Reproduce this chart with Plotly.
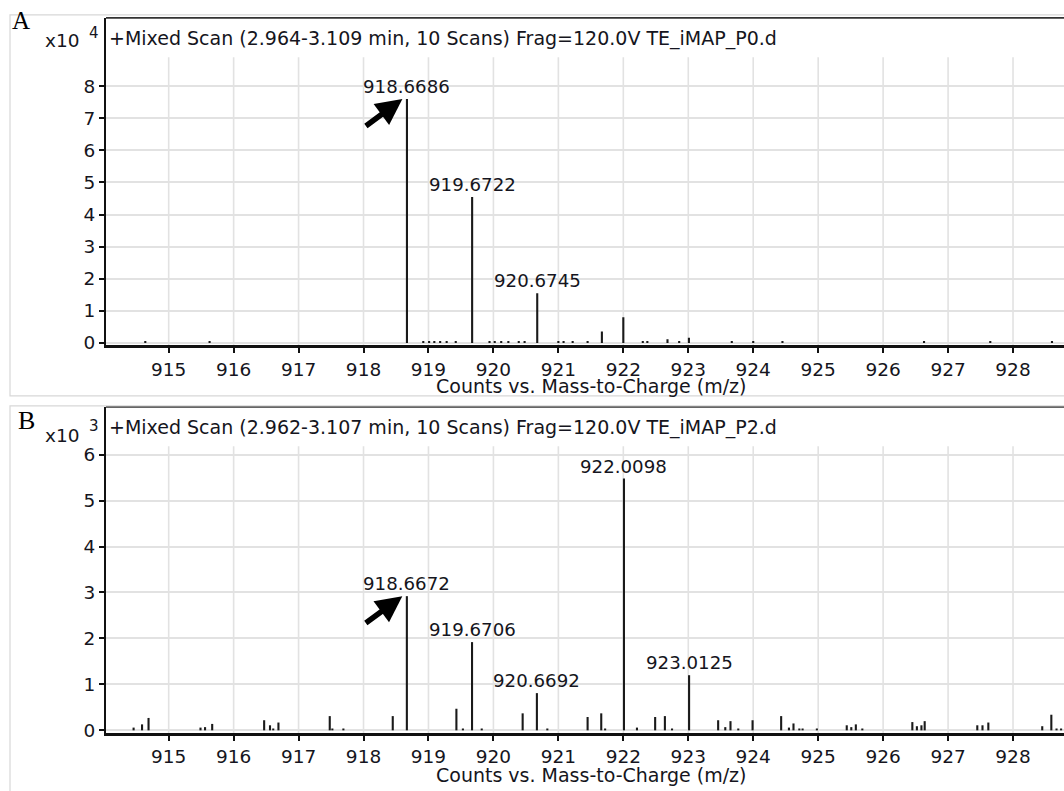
import plotly.graph_objects as go

W, H = 1064, 791

# ---- Panel A spectrum: intensities in counts x10^4 ----
mz_a = [914.64, 915.63,
        918.6686, 918.92, 919.01, 919.09, 919.18, 919.28, 919.42,
        919.6722, 919.94, 920.02, 920.12, 920.23, 920.39, 920.48,
        920.6745, 921.00, 921.08, 921.22, 921.45, 921.67,
        922.00, 922.30, 922.37, 922.68, 922.86, 923.01,
        923.67, 924.00, 924.45, 926.63, 927.65, 928.60]
int_a = [0.06, 0.06,
         7.60, 0.06, 0.06, 0.06, 0.06, 0.06, 0.06,
         4.55, 0.06, 0.06, 0.06, 0.06, 0.06, 0.06,
         1.55, 0.06, 0.06, 0.06, 0.06, 0.36,
         0.80, 0.06, 0.06, 0.12, 0.06, 0.16,
         0.06, 0.06, 0.06, 0.06, 0.06, 0.06]
labels_a = [918.6686, 919.6722, 920.6745]

# ---- Panel B spectrum: intensities in counts x10^3 ----
mz_b = [914.46, 914.59, 914.69, 915.49, 915.56, 915.67,
        916.47, 916.56, 916.61, 916.69, 917.48, 917.52, 917.69,
        918.45, 918.6672, 919.43, 919.53, 919.6706, 919.82,
        920.45, 920.6692, 920.83, 921.45, 921.66, 921.72,
        922.0098, 922.21, 922.49, 922.64, 922.75, 923.0125,
        923.46, 923.57, 923.65, 923.77, 923.99,
        924.43, 924.55, 924.62, 924.71, 924.76, 924.98,
        925.44, 925.51, 925.58, 925.68,
        926.45, 926.52, 926.59, 926.64,
        927.45, 927.53, 927.62,
        928.45, 928.59, 928.67, 928.74]
int_b = [0.06, 0.13, 0.27, 0.06, 0.07, 0.14,
         0.22, 0.11, 0.04, 0.17, 0.31, 0.04, 0.04,
         0.31, 2.92, 0.47, 0.04, 1.92, 0.04,
         0.37, 0.81, 0.04, 0.29, 0.37, 0.04,
         5.48, 0.06, 0.29, 0.31, 0.04, 1.20,
         0.22, 0.07, 0.20, 0.04, 0.22,
         0.31, 0.06, 0.15, 0.04, 0.04, 0.04,
         0.11, 0.07, 0.13, 0.04,
         0.18, 0.09, 0.11, 0.20,
         0.11, 0.11, 0.17,
         0.09, 0.34, 0.04, 0.04]
labels_b = [918.6672, 919.6706, 920.6692, 922.0098, 923.0125]

x_ticks = list(range(915, 929))
y_ticks_a = list(range(0, 9))
y_ticks_b = list(range(0, 7))

title_a = "+Mixed Scan (2.964-3.109 min, 10 Scans) Frag=120.0V TE_iMAP_P0.d"
title_b = "+Mixed Scan (2.962-3.107 min, 10 Scans) Frag=120.0V TE_iMAP_P2.d"
exp_a, exp_b = "4", "3"
x_title = "Counts vs. Mass-to-Charge (m/z)"
arrow_peak_a, arrow_peak_b = 918.6686, 918.6672

FONT = "DejaVu Sans, Arial, sans-serif"
TXT = "#151520"
GRID = "#e2e2e2"


def px(x):
    return x / W


def py(y):
    return 1 - y / H


def sticks(mz, inten):
    xs, ys = [], []
    for m, v in zip(mz, inten):
        xs += [m, m, None]
        ys += [0, v, None]
    return xs, ys


fig = go.Figure()

xa, ya = sticks(mz_a, int_a)
xb, yb = sticks(mz_b, int_b)
fig.add_trace(go.Scatter(x=xa, y=ya, mode="lines", xaxis="x", yaxis="y",
                         line=dict(color="#1a1a1a", width=2.1), hoverinfo="skip"))
fig.add_trace(go.Scatter(x=xb, y=yb, mode="lines", xaxis="x2", yaxis="y2",
                         line=dict(color="#1a1a1a", width=2.1), hoverinfo="skip"))

xrange = [914.035, 928.785]
panels = [
    # (x axis, y axis, top px, bottom px, y range, y ticks, grid top)
    ("x", "y", 18, 349, [-0.077, 10.13], y_ticks_a, 8.9),
    ("x2", "y2", 411, 740.5, [-0.058, 7.04], y_ticks_b, 6.18),
]

axis_common = dict(showline=True, linecolor="#111", ticks="outside",
                   tickcolor="#111", tickwidth=2, ticklen=5, zeroline=False,
                   tickfont=dict(family=FONT, size=18.5, color=TXT))

layout = dict(width=W, height=H, margin=dict(l=0, r=0, t=0, b=0),
              paper_bgcolor="white", plot_bgcolor="white", showlegend=False)

shapes = []
annotations = []

for xn, yn, top, bot, yr, yt, gtop in panels:
    xk = "xaxis" + xn[1:]
    yk = "yaxis" + yn[1:]
    layout[xk] = dict(domain=[px(106), 1], range=xrange, anchor=yn,
                      tickvals=x_ticks, showgrid=False, linewidth=3,
                      ticklabelstandoff=0, **axis_common)
    layout[yk] = dict(domain=[py(bot), py(top)], range=yr, anchor=xn,
                      tickvals=yt, showgrid=True, gridcolor=GRID,
                      gridwidth=1.6, linewidth=1.8, **axis_common)
    # vertical grid lines stop below the scan header
    for t in x_ticks:
        shapes.append(dict(type="line", xref=xn, yref=yn, x0=t, x1=t,
                           y0=yr[0], y1=gtop, layer="below",
                           line=dict(color=GRID, width=1.6)))
    # top border of plot box
    shapes.append(dict(type="line", xref="paper", yref="paper",
                       x0=px(106), x1=1.01, y0=py(top), y1=py(top),
                       line=dict(color="#333", width=1.8)))

# light outer frames of the two panels
shapes.append(dict(type="rect", xref="paper", yref="paper",
                   x0=px(10), x1=px(1075), y0=py(400), y1=py(15),
                   line=dict(color="#d8d8d8", width=1.2)))
shapes.append(dict(type="rect", xref="paper", yref="paper",
                   x0=px(10), x1=px(1075), y0=py(800), y1=py(410),
                   line=dict(color="#d8d8d8", width=1.2)))

# peak labels
for lab, xn, yn, mz, inten in [(labels_a, "x", "y", mz_a, int_a),
                               (labels_b, "x2", "y2", mz_b, int_b)]:
    for m in lab:
        v = inten[mz.index(m)]
        annotations.append(dict(x=m, y=v, xref=xn, yref=yn, text=f"{m:.4f}",
                                showarrow=False, yanchor="bottom", yshift=0,
                                font=dict(family=FONT, size=18.2, color=TXT)))

# arrows pointing at the monoisotopic peaks
for m, xn, yn, mz, inten in [(arrow_peak_a, "x", "y", mz_a, int_a),
                             (arrow_peak_b, "x2", "y2", mz_b, int_b)]:
    v = inten[mz.index(m)]
    annotations.append(dict(x=m - 0.07, y=v, xref=xn, yref=yn, text="",
                            showarrow=True, arrowhead=2, arrowsize=0.95,
                            arrowwidth=5.5, arrowcolor="#000",
                            ax=-38, ay=28, standoff=0))

# scan headers, exponents, panel letters and axis titles
for top_txt, exp, letter, ly, lsz, ty, xty, ey, xy, lx in [
        (title_a, exp_a, "A", 21, 25, 39, 41, 33, 390, 21),
        (title_b, exp_b, "B", 425, 26, 432, 440, 430, 783, 26)]:
    annotations.append(dict(x=px(107), y=py(ty), xref="paper", yref="paper",
                            text=top_txt, showarrow=False, xanchor="left",
                            yanchor="middle",
                            font=dict(family=FONT, size=19, color=TXT)))
    annotations.append(dict(x=px(82), y=py(xty), xref="paper", yref="paper",
                            text="x10", showarrow=False, xanchor="right",
                            yanchor="middle",
                            font=dict(family=FONT, size=18.5, color=TXT)))
    annotations.append(dict(x=px(94), y=py(ey), xref="paper", yref="paper",
                            text=exp, showarrow=False, xanchor="center",
                            yanchor="middle",
                            font=dict(family=FONT, size=15, color=TXT)))
    annotations.append(dict(x=px(lx), y=py(ly), xref="paper", yref="paper",
                            text=letter, showarrow=False, xanchor="center",
                            yanchor="middle",
                            font=dict(family="Liberation Serif, Times New Roman, serif",
                                      size=lsz, color="#000")))
    annotations.append(dict(x=px(591), y=py(xy), xref="paper", yref="paper",
                            text=x_title, showarrow=False, xanchor="center",
                            yanchor="middle",
                            font=dict(family=FONT, size=19, color=TXT)))

layout["shapes"] = shapes
layout["annotations"] = annotations
fig.update_layout(**layout)

fig.write_html("out.html")
